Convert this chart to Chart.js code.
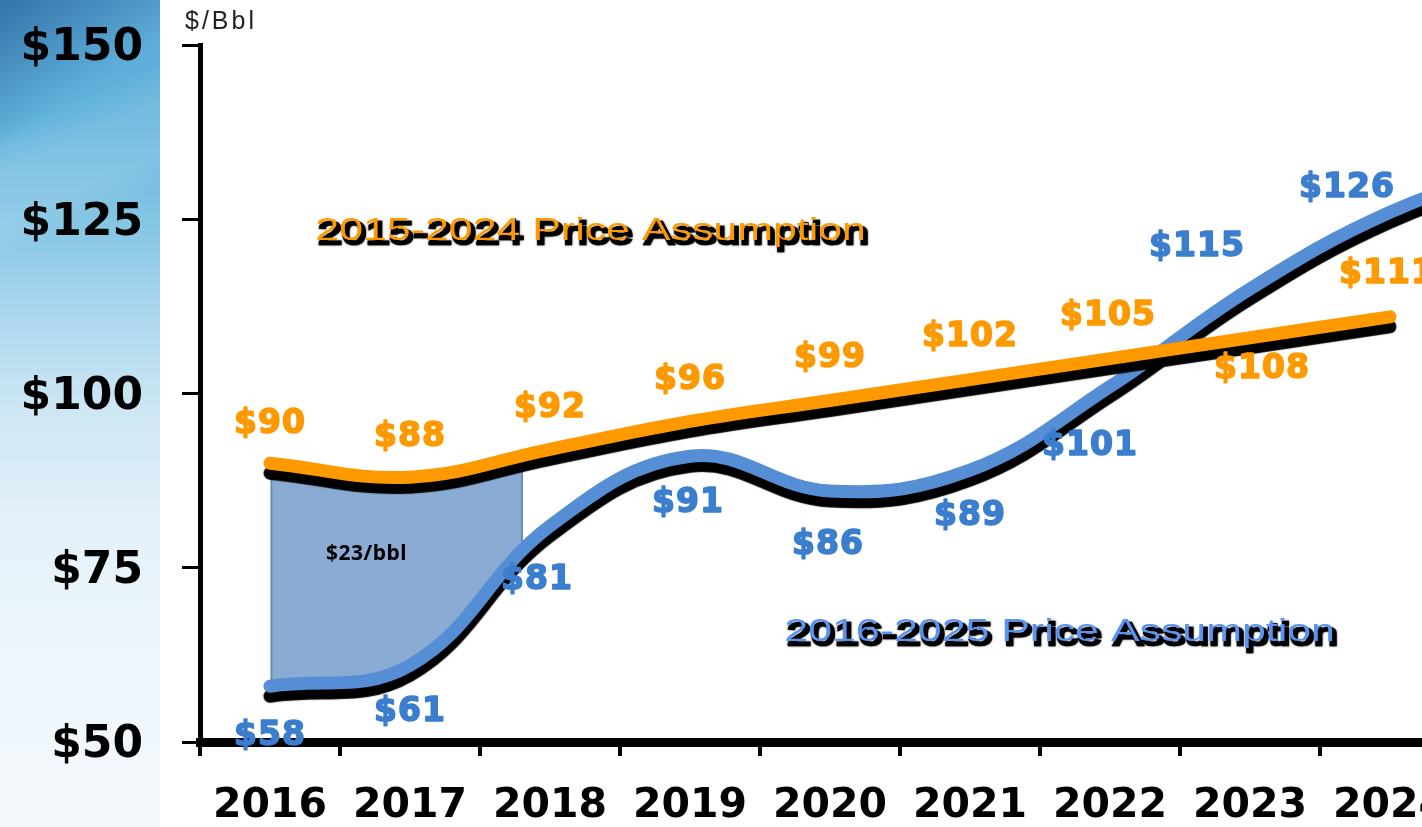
<!DOCTYPE html>
<html>
<head>
<meta charset="utf-8">
<title>Oil price assumptions</title>
<script src="https://cdn.jsdelivr.net/npm/chart.js@4.4.1/dist/chart.umd.min.js"></script>
<style>
  html, body { margin: 0; padding: 0; width: 1422px; height: 827px; overflow: hidden; background: #fff; }
  #side {
    position: absolute; left: 0; top: 0; width: 160px; height: 827px;
    background:
      linear-gradient(156deg, rgba(255,255,255,0) 0%, rgba(255,255,255,0) 15%, rgba(255,255,255,0.12) 19%, rgba(255,255,255,0.12) 25%, rgba(255,255,255,0) 29%),
      linear-gradient(145deg, rgba(25,80,140,0.6) 0%, rgba(25,80,140,0) 16%),
      linear-gradient(to bottom, #5aa9d6 0%, #62b3dc 14%, #82c4e4 26%, #abd7ee 38%, #cfe7f4 50%, #e4f1f9 64%, #eef6fb 80%, #f3f8fc 100%);
  }
  #wrap { position: absolute; left: 0; top: 0; width: 1650px; height: 827px; }
</style>
</head>
<body>
<div id="side"></div>
<div id="wrap"><canvas id="priceChart" width="1650" height="827"></canvas></div>
<script>
// ── data ───────────────────────────────────────────
const YEARS = ['2016', '2017', '2018', '2019', '2020', '2021', '2022', '2023', '2024', '2025'];
const PRICE_2015_2024 = [90, 88, 92, 96, 99, 102, 105, 108, 111, null];
const PRICE_2016_2025 = [58, 61, 81, 91, 86, 89, 101, 115, 126, 133];
const Y_TICKS = [50, 75, 100, 125, 150];
const SERIES_TITLES = ['2015-2024 Price Assumption', '2016-2025 Price Assumption'];
const GAP_SPAN = [0.01, 1.8];      // category-index range of the shaded gap
const GAP_LABEL = '$23/bbl';
const UNIT_LABEL = '$/Bbl';

// ── label placement (pixels from each point) ───────
const ORANGE_SHIFT = [[0, -39], [0, -40], [0, -41], [0, -41], [0, -42], [0, -42], [-2, -42], [12, 32], [-3, -42], null];
const BLUE_SHIFT = [[0, 50], [0, 47], [-13, 54], [-2, 47], [-2, 54], [0, 46], [-20, 60], [-53, -42], [-43, -24], null];
// title / note anchors in data space: [category index, value]
const TITLE_AT = [[2.29, 122.0], [5.64, 64.5]];
const GAP_LABEL_AT = [0.69, 77.0];

const ORANGE = '#ff9900';
const BLUE_LINE = '#558ed5';
const BLUE_TEXT = '#3b7ece';
const BLUE_TITLE = '#5b93f0';

Chart.defaults.font.family = '"DejaVu Sans", sans-serif';

// black drop line under each series
const lineShadow = {
  id: 'lineShadow',
  beforeDatasetDraw(chart) {
    const ctx = chart.ctx;
    ctx.save();
    ctx.shadowColor = '#000';
    ctx.shadowOffsetX = 0;
    ctx.shadowOffsetY = 10;
    ctx.shadowBlur = 1;
  },
  afterDatasetDraw(chart) {
    chart.ctx.restore();
  }
};

// shaded gap between the two curves
const gapFill = {
  id: 'gapFill',
  beforeDatasetsDraw(chart) {
    const { ctx, chartArea: a, scales: { x } } = chart;
    const top = chart.getDatasetMeta(0).dataset;
    const bot = chart.getDatasetMeta(1).dataset;
    top.updateControlPoints(a, 'x');
    bot.updateControlPoints(a, 'x');
    const x0 = x.getPixelForValue(GAP_SPAN[0]);
    const x1 = x.getPixelForValue(GAP_SPAN[1]);

    ctx.save();
    ctx.beginPath();
    top.path(ctx);
    ctx.lineTo(a.right, a.bottom + 40);
    ctx.lineTo(a.left, a.bottom + 40);
    ctx.closePath();
    ctx.clip();
    ctx.beginPath();
    bot.path(ctx);
    ctx.lineTo(a.right, a.top - 40);
    ctx.lineTo(a.left, a.top - 40);
    ctx.closePath();
    ctx.clip();

    ctx.fillStyle = '#8aabd3';
    ctx.fillRect(x0, a.top, x1 - x0, a.height);
    ctx.strokeStyle = '#6d8cb3';
    ctx.lineWidth = 2;
    ctx.beginPath();
    ctx.moveTo(x0, a.top); ctx.lineTo(x0, a.bottom);
    ctx.moveTo(x1, a.top); ctx.lineTo(x1, a.bottom);
    ctx.stroke();
    ctx.restore();
  }
};

function stretchedTitle(ctx, text, x, y, color) {
  ctx.save();
  ctx.font = '32px "Liberation Sans", Arial, sans-serif';
  ctx.textAlign = 'center';
  ctx.textBaseline = 'alphabetic';
  ctx.translate(x, y);
  ctx.scale(1.34, 1);
  // shadow copy
  ctx.save();
  ctx.translate(3 / 1.34, 4);
  ctx.shadowColor = 'rgba(0,0,0,0.8)';
  ctx.shadowBlur = 2;
  ctx.fillStyle = '#000';
  ctx.strokeStyle = '#000';
  ctx.lineWidth = 2.5;
  ctx.strokeText(text, 0, 0);
  ctx.fillText(text, 0, 0);
  ctx.restore();
  ctx.fillStyle = color;
  ctx.fillText(text, 0, 0);
  ctx.restore();
}

const annotations = {
  id: 'annotations',
  afterDatasetsDraw(chart) {
    const { ctx, chartArea: a, scales: { x, y } } = chart;

    // value labels
    ctx.save();
    ctx.font = 'bold 33px "DejaVu Sans", sans-serif';
    ctx.letterSpacing = '1px';
    ctx.textAlign = 'center';
    ctx.textBaseline = 'middle';
    ctx.lineWidth = 1.6;
    ctx.lineJoin = 'round';
    [[0, ORANGE_SHIFT, ORANGE], [1, BLUE_SHIFT, BLUE_TEXT]].forEach(([idx, shift, color]) => {
      const ds = chart.data.datasets[idx];
      chart.getDatasetMeta(idx).data.forEach((pt, i) => {
        const v = ds.data[i];
        if (v == null || !shift[i]) return;
        ctx.fillStyle = color;
        ctx.strokeStyle = color;
        ctx.fillText('$' + v, pt.x + shift[i][0], pt.y + shift[i][1]);
        ctx.strokeText('$' + v, pt.x + shift[i][0], pt.y + shift[i][1]);
      });
    });
    ctx.restore();

    // series titles
    stretchedTitle(ctx, SERIES_TITLES[0], x.getPixelForValue(TITLE_AT[0][0]), y.getPixelForValue(TITLE_AT[0][1]), ORANGE);
    stretchedTitle(ctx, SERIES_TITLES[1], x.getPixelForValue(TITLE_AT[1][0]), y.getPixelForValue(TITLE_AT[1][1]), BLUE_TITLE);

    // gap note
    ctx.save();
    ctx.font = 'bold 21px "Noto Sans", "DejaVu Sans", sans-serif';
    ctx.letterSpacing = '0.5px';
    ctx.fillStyle = '#000';
    ctx.textAlign = 'center';
    ctx.textBaseline = 'middle';
    ctx.fillText(GAP_LABEL, x.getPixelForValue(GAP_LABEL_AT[0]), y.getPixelForValue(GAP_LABEL_AT[1]));
    ctx.restore();

    // unit
    ctx.save();
    ctx.font = '25px "Liberation Sans", Arial, sans-serif';
    ctx.letterSpacing = '3px';
    ctx.fillStyle = '#222';
    ctx.textAlign = 'left';
    ctx.textBaseline = 'alphabetic';
    ctx.fillText(UNIT_LABEL, a.left - 15, a.top - 16);
    ctx.restore();
  }
};

new Chart(document.getElementById('priceChart'), {
  type: 'line',
  data: {
    labels: YEARS,
    datasets: [
      {
        label: SERIES_TITLES[0],
        data: PRICE_2015_2024,
        borderColor: ORANGE,
        borderWidth: 13,
        borderCapStyle: 'round',
        borderJoinStyle: 'round',
        tension: 0.4,
        pointRadius: 0,
        fill: false,
        clip: false,
      },
      {
        label: SERIES_TITLES[1],
        data: PRICE_2016_2025,
        borderColor: BLUE_LINE,
        borderWidth: 13,
        borderCapStyle: 'round',
        borderJoinStyle: 'round',
        tension: 0.4,
        pointRadius: 0,
        fill: false,
        clip: false,
      }
    ]
  },
  options: {
    responsive: false,
    animation: false,
    layout: { padding: { top: 45, right: 50, left: 0, bottom: 0 } },
    plugins: {
      legend: { display: false },
      tooltip: { enabled: false },
    },
    scales: {
      x: {
        offset: true,
        grid: {
          offset: true,
          drawOnChartArea: false,
          drawTicks: true,
          tickLength: 14,
          lineWidth: 4,
          color: '#000',
        },
        border: { display: true, color: '#000', width: 9 },
        ticks: {
          color: '#000',
          padding: 26,
          maxRotation: 0,
          autoSkip: false,
          font: { size: 41, weight: 'bold', lineHeight: 1.2 },
        },
        afterFit: s => { s.height = 85; },
      },
      y: {
        min: 50,
        max: 150,
        afterBuildTicks: s => { s.ticks = Y_TICKS.map(v => ({ value: v })); },
        grid: {
          drawOnChartArea: false,
          drawTicks: true,
          tickLength: 18,
          lineWidth: 3,
          color: '#000',
        },
        border: { display: true, color: '#000', width: 5 },
        ticks: {
          color: '#000',
          padding: 39,
          labelOffset: 4,
          font: { size: 44, weight: 'bold', lineHeight: 1.2 },
          callback: v => '$' + v,
        },
        afterFit: s => { s.width = 200; s.paddingTop = 0; s.paddingBottom = 0; },
      }
    }
  },
  plugins: [gapFill, lineShadow, annotations]
});
</script>
</body>
</html>
